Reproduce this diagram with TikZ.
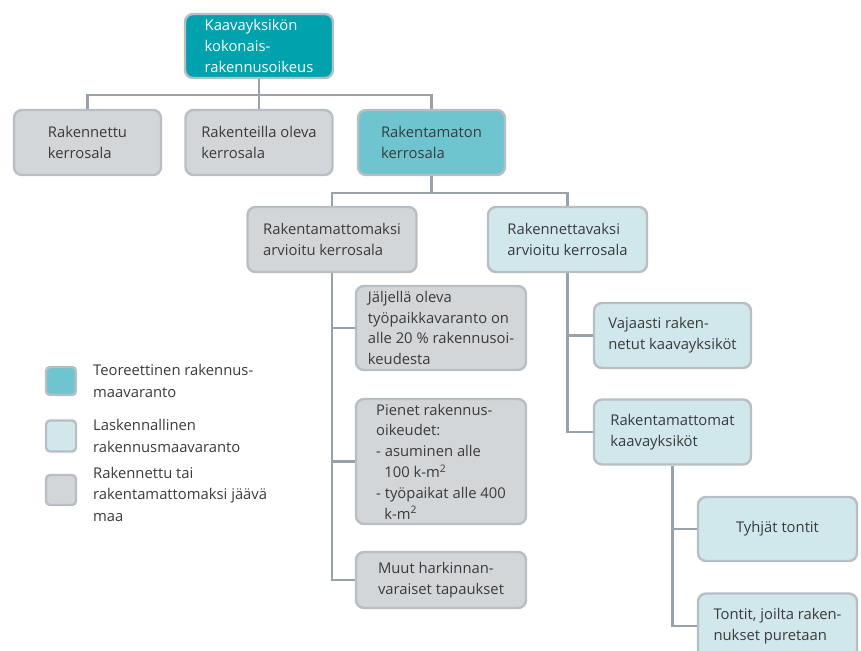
\documentclass[tikz,border=0pt]{standalone}
\usepackage{fontspec}
\setmainfont{Open Sans}
\usepackage{tikz}

\definecolor{tealdark}{HTML}{00A3AD}
\definecolor{tealmid}{HTML}{6EC5D0}
\definecolor{tealpale}{HTML}{D0E8EC}
\definecolor{greybox}{HTML}{D3D6D9}
\definecolor{greyedge}{HTML}{B8BEC3}
\definecolor{greyline}{HTML}{9AA2A9}
\definecolor{txt}{HTML}{3A3A3A}

\begin{document}
\begin{tikzpicture}[x=1pt, y=-1pt,
		box/.style={rectangle, rounded corners=8pt, draw=greyedge, line width=2.4pt, minimum width=147pt, minimum height=65pt, align=left, text=txt, inner xsep=4pt, inner ysep=1pt, font=\fontsize{14.8}{20.8}\selectfont},
		built/.style={box, fill=greybox},
		calc/.style={box, fill=tealpale},
		theo/.style={box, fill=tealmid},
		key/.style={rectangle, rounded corners=4pt, draw=greyedge, line width=2.4pt, minimum width=30pt, minimum height=28pt},
		keytext/.style={anchor=west, align=left, text=txt, inner sep=0pt, font=\fontsize{14.8}{21.5}\selectfont},
		link/.style={draw=greyline, line width=2.4pt}]
		\useasboundingbox (0,0) rectangle (861,650);
		% top levels
		\node at (259,46) [box, fill=tealdark, text=white, minimum width=148pt, minimum height=64pt] (total) {Kaavayksikön\\kokonais-\\rakennusoikeus};
		\node at (87.5,142.5) [built] (built) {Rakennettu\\kerrosala};
		\node at (259,142.5) [built] (building) {Rakenteilla oleva\\kerrosala};
		\node at (431.5,142.5) [theo] (unbuilt) {Rakentamaton\\kerrosala};
		\node at (332,239.5) [built, minimum width=169pt] (stay) {Rakentamattomaksi\\arvioitu kerrosala};
		\node at (567.5,239.5) [calc, minimum width=159pt] (tobuild) {Rakennettavaksi\\arvioitu kerrosala};
		% left branch
		\node at (441,328) [built, minimum width=170pt, minimum height=84pt] (jobs) {Jäljellä oleva\\työpaikkavaranto on\\alle 20 \% rakennusoi-\\keudesta};
		\node at (441,461.5) [built, minimum width=170pt, minimum height=125pt] (small) {Pienet rakennus-\\oikeudet:\\- asuminen alle\\\hspace*{0.55em}100 k-m\textsuperscript{2}\\- työpaikat alle 400\\\hspace*{0.55em}k-m\textsuperscript{2}};
		\node at (441,580) [built, minimum width=170pt, minimum height=56pt] (other) {Muut harkinnan-\\varaiset tapaukset};
		% right branch
		\node at (672.5,335.5) [calc, minimum width=157pt] (partly) {Vajaasti raken-\\netut kaavayksiköt};
		\node at (672.5,432) [calc, minimum width=157pt] (empty) {Rakentamattomat\\kaavayksiköt};
		\node at (777.5,529) [calc, minimum width=159pt, minimum height=64pt] (plots) {Tyhjät tontit};
		\node at (777.5,626) [calc, minimum width=159pt] (demol) {Tontit, joilta raken-\\nukset puretaan};
		% legend
		\node at (61,381) [key, fill=tealmid] (k1) {};
		\node at (61,436) [key, fill=tealpale, minimum height=31pt] (k2) {};
		\node at (61,490) [key, fill=greybox, minimum height=30pt] (k3) {};
		\node at (93,381) [keytext] (t1) {Teoreettinen rakennus-\\maavaranto};
		\node at (93,436) [keytext] (t2) {Laskennallinen\\rakennusmaavaranto};
		\node at (93,494) [keytext] (t3) {Rakennettu tai\\rakentamattomaksi jäävä\\maa};
		% connectors
		\coordinate (bus1) at (259,95);
		\coordinate (bus2) at (431.5,193);
		\draw[link] (total) -- (bus1);
		\draw[link] (built.north) |- (bus1) -| (unbuilt.north);
		\draw[link] (bus1) -- (building);
		\draw[link] (unbuilt) -- (bus2);
		\draw[link] (stay.north) |- (bus2) -| (tobuild.north);
		\draw[link] (stay.south) |- (jobs.west);
		\draw[link] (stay.south) |- (small.west);
		\draw[link] (stay.south) |- (other.west);
		\draw[link] (tobuild.south) |- (partly.west);
		\draw[link] (tobuild.south) |- (empty.west);
		\draw[link] (empty.south) |- (plots.west);
		\draw[link] (empty.south) |- (demol.west);
	\end{tikzpicture}
\end{document}
